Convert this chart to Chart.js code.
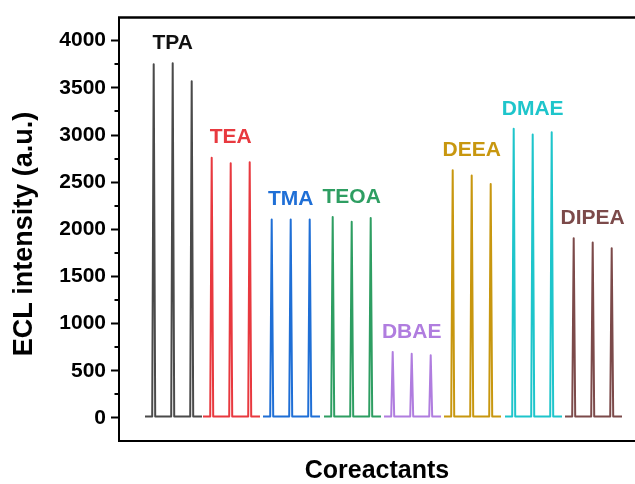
<!DOCTYPE html>
<html>
<head>
<meta charset="utf-8">
<script src="https://cdn.jsdelivr.net/npm/chart.js@4.4.1/dist/chart.umd.min.js"></script>
<style>
  html, body { margin: 0; padding: 0; background: #fff; }
  canvas { display: block; }
</style>
</head>
<body>
<canvas id="ecl" width="635" height="484"></canvas>
<script>
// Coreactant names, in measurement order
const coreactants = ['TPA', 'TEA', 'TMA', 'TEOA', 'DBAE', 'DEEA', 'DMAE', 'DIPEA'];

// Peak ECL intensity (a.u.) of the three pulses recorded for each coreactant
const tpaPeaks   = [3750, 3760, 3570];
const teaPeaks   = [2760, 2700, 2710];
const tmaPeaks   = [2105, 2105, 2105];
const teoaPeaks  = [2130, 2080, 2120];
const dbaePeaks  = [700, 680, 665];
const deeaPeaks  = [2625, 2570, 2480];
const dmaePeaks  = [3065, 3005, 3030];
const dipeaPeaks = [1905, 1860, 1800];
const peakSets = [tpaPeaks, teaPeaks, tmaPeaks, teoaPeaks, dbaePeaks, deeaPeaks, dmaePeaks, dipeaPeaks];

// Time at which each coreactant run starts, and pulse times within a run
const runStart = [26, 84, 144, 205, 265, 325, 386, 446];
const pulseOffsets = [8.7, 27.7, 46.7];
const runLength = 57;
const baselineLevel = 15;

// Y axis tick values
const majorTicks = [0, 500, 1000, 1500, 2000, 2500, 3000, 3500, 4000];
const minorTicks = [250, 750, 1250, 1750, 2250, 2750, 3250, 3750];

const lineColors  = ['#4a4a4a', '#e8393f', '#1f6fd6', '#2e9e62', '#b07ddf', '#c8970f', '#1ec5cb', '#7c4a4a'];
const labelColors = ['#111111', '#e8393f', '#1f6fd6', '#2e9e62', '#b07ddf', '#c8970f', '#1ec5cb', '#7c4a4a'];

const FONT = "'Liberation Sans', Arial, Helvetica, sans-serif";

// One trace per coreactant: flat baseline with a narrow spike per pulse
function buildTrace(start, peaks) {
  const pts = [{ x: start, y: baselineLevel }];
  peaks.forEach((h, k) => {
    const t = start + pulseOffsets[k];
    pts.push({ x: t - 1.5, y: baselineLevel });
    pts.push({ x: t, y: h });
    pts.push({ x: t + 1.5, y: baselineLevel });
  });
  pts.push({ x: start + runLength, y: baselineLevel });
  return pts;
}

const datasets = coreactants.map((name, i) => ({
  label: name,
  data: buildTrace(runStart[i], peakSets[i]),
  borderColor: lineColors[i],
  borderWidth: 2,
  borderJoinStyle: 'round',
  pointRadius: 0,
  tension: 0,
  fill: false
}));

// Names above each group of pulses, axis title, top frame line and minor ticks
const decorations = {
  id: 'decorations',
  afterDatasetsDraw(chart) {
    const { ctx, scales } = chart;
    const xs = scales.x, ys = scales.y;
    ctx.save();
    ctx.font = 'bold 21px ' + FONT;
    ctx.textAlign = 'center';
    ctx.textBaseline = 'middle';
    coreactants.forEach((name, i) => {
      const x = xs.getPixelForValue(runStart[i] + pulseOffsets[1]);
      const y = ys.getPixelForValue(Math.max(...peakSets[i])) - 20;
      ctx.fillStyle = labelColors[i];
      ctx.fillText(name, x, y);
    });
    ctx.restore();
  },
  afterDraw(chart) {
    const { ctx, chartArea, scales } = chart;
    ctx.save();
    ctx.strokeStyle = '#000';
    ctx.lineWidth = 2.5;
    ctx.beginPath();
    ctx.moveTo(chartArea.left - 1, chartArea.top);
    ctx.lineTo(chartArea.right, chartArea.top);
    ctx.stroke();
    ctx.lineWidth = 2;
    minorTicks.forEach(v => {
      const y = Math.round(scales.y.getPixelForValue(v));
      ctx.beginPath();
      ctx.moveTo(chartArea.left - 4.5, y);
      ctx.lineTo(chartArea.left, y);
      ctx.stroke();
    });
    // vertical axis title
    ctx.translate(25, 234);
    ctx.rotate(-Math.PI / 2);
    ctx.font = 'bold 27px ' + FONT;
    ctx.fillStyle = '#000';
    ctx.textAlign = 'center';
    ctx.textBaseline = 'middle';
    ctx.fillText('ECL intensity (a.u.)', 0, 0);
    ctx.restore();
  }
};

new Chart(document.getElementById('ecl'), {
  type: 'line',
  data: { datasets },
  options: {
    responsive: false,
    animation: false,
    devicePixelRatio: 1,
    layout: { padding: { top: 14, right: 0, bottom: 0, left: 0 } },
    plugins: { legend: { display: false }, tooltip: { enabled: false } },
    scales: {
      x: {
        type: 'linear',
        min: 0,
        max: 516,
        grid: { display: false },
        border: { display: true, color: '#000', width: 2 },
        ticks: { display: false },
        title: {
          display: true,
          text: 'Coreactants',
          color: '#000',
          font: { family: FONT, size: 25, weight: 'bold', lineHeight: 1 },
          padding: { top: 0, bottom: 0 }
        },
        afterFit(scale) { scale.height = 43; }
      },
      y: {
        type: 'linear',
        min: -245,
        max: 4245,
        afterBuildTicks(scale) { scale.ticks = majorTicks.map(v => ({ value: v })); },
        grid: { drawOnChartArea: false, drawTicks: true, tickLength: 8, tickWidth: 2, tickColor: '#000' },
        border: { display: true, color: '#000', width: 2 },
        ticks: {
          color: '#000',
          padding: 5,
          font: { family: FONT, size: 21, weight: 'bold' },
          callback: v => String(v)
        },
        afterFit(scale) { scale.width = 119; }
      }
    }
  },
  plugins: [decorations]
});
</script>
</body>
</html>
